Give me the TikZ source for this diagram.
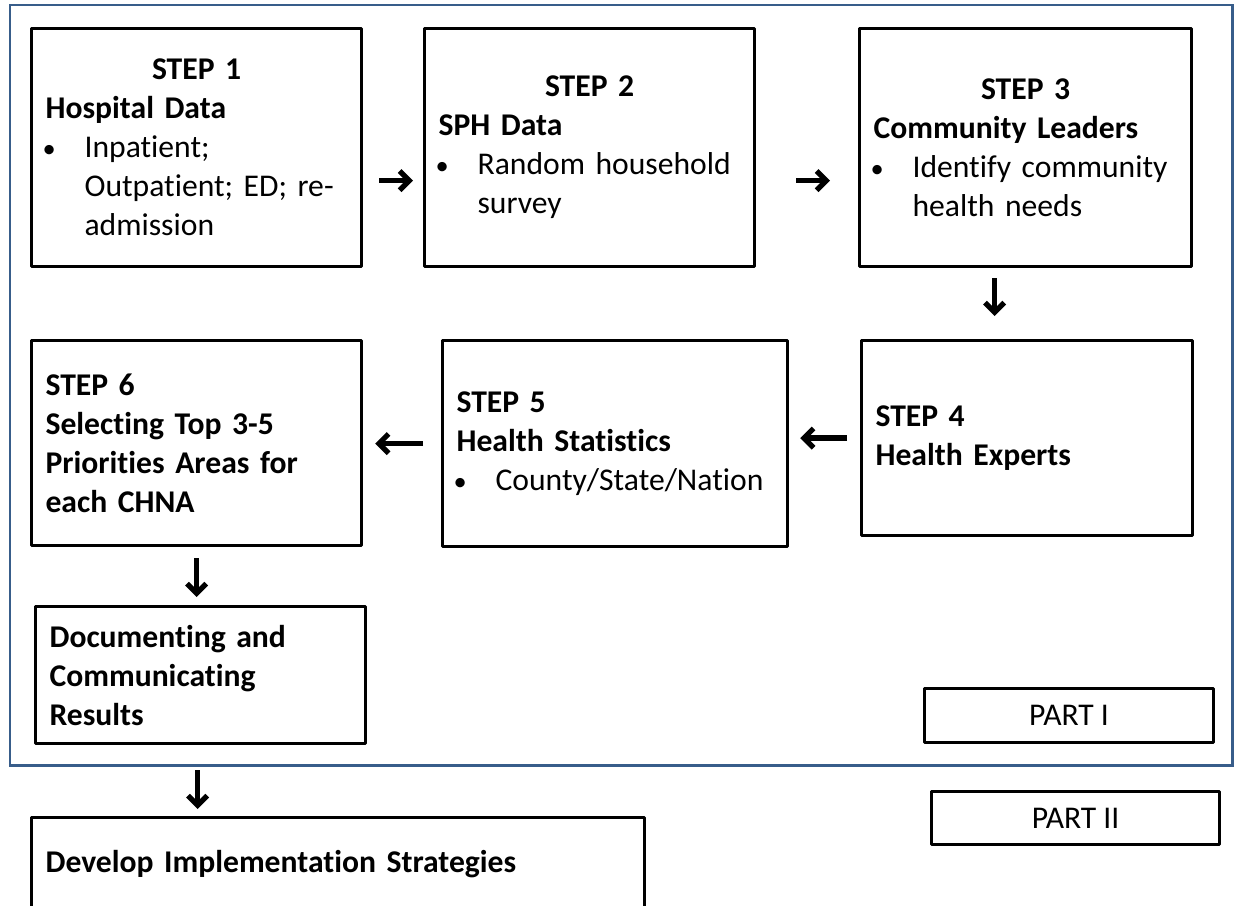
\documentclass[tikz,border=0pt]{standalone}
\usepackage{fontspec}
\setmainfont{Carlito}[Ligatures=NoCommon]
\usetikzlibrary{arrows.meta,calc}

\definecolor{framecol}{HTML}{385D8A}

\newcommand{\bitem}[1]{\makebox[0.78cm][l]{\hspace{-0.06cm}{\mdseries\fontsize{15}{15}\selectfont\textbullet}}{\mdseries #1}}
\newcommand{\bcont}[1]{\hspace*{0.78cm}{\mdseries #1}}
\newcommand{\midline}[1]{\hfill #1\hfill\null}

\tikzset{
	stepbox/.style={draw, line width=1.8pt, line join=round, align=left, anchor=north west,
		inner xsep=0.28cm, inner ysep=0pt, font=\bfseries\fontsize{18}{22.2}\selectfont},
	partbox/.style={draw, line width=1.8pt, line join=round, align=center, anchor=north west,
		inner sep=0pt, font=\fontsize{18}{22.2}\selectfont},
	flow/.style={-{Straight Barb[length=5.5pt,width=11pt]}, line width=3pt},
	frame/.style={draw=framecol, line width=1.7pt},
}

\begin{document}
\begin{tikzpicture}
			\useasboundingbox (0,0) rectangle (24.86,-18.1);
			\clip (0,0) rectangle (24.86,-18.1);
			
			% part I frame
			\draw[frame] (0.2,-0.1) rectangle (24.64,-15.3);
			
			\node[stepbox, text width=6.04cm, minimum height=4.76cm] (s1) at (0.6,-0.54)
				{\midline{STEP 1}\\Hospital Data\\\bitem{Inpatient;}\\\bcont{Outpatient; ED; re-}\\\bcont{admission}};
			\node[stepbox, text width=6.04cm, minimum height=4.76cm] (s2) at (8.46,-0.54)
				{\midline{STEP 2}\\SPH Data\\\bitem{Random household}\\\bcont{survey}};
			\node[stepbox, text width=6.08cm, minimum height=4.76cm] (s3) at (17.16,-0.54)
				{\midline{STEP 3}\\Community Leaders\\\bitem{Identify community}\\\bcont{health needs}};
			
			\node[stepbox, text width=6.06cm, minimum height=3.9cm] (s4) at (17.2,-6.78)
				{STEP 4\\Health Experts};
			\node[stepbox, text width=6.34cm, minimum height=4.12cm] (s5) at (8.82,-6.78)
				{STEP 5\\Health Statistics\\\bitem{County/State/Nation}};
			\node[stepbox, text width=6.04cm, minimum height=4.1cm] (s6) at (0.6,-6.78)
				{STEP 6\\Selecting Top 3-5\\Priorities Areas for\\each CHNA};
			
			\node[stepbox, text width=6.04cm, minimum height=2.74cm] (docs) at (0.68,-12.1)
				{Documenting and\\Communicating\\Results};
			\node[stepbox, text width=11.7cm, minimum height=1.84cm] (dev) at (0.6,-16.32)
				{Develop Implementation Strategies};
			
			\node[partbox, minimum width=5.78cm, minimum height=1.08cm] (p1) at (18.46,-13.74) {PART I};
			\node[partbox, minimum width=5.76cm, minimum height=1.06cm] (p2) at (18.6,-15.8) {PART II};
			
			% arrows
			\draw[flow, shorten <=0.32cm, shorten >=0.2cm] ([yshift=-0.66cm]s1.east) -- ([yshift=-0.66cm]s2.west);
			\draw[flow, shorten <=0.8cm, shorten >=0.56cm] ([yshift=-0.66cm]s2.east) -- ([yshift=-0.66cm]s3.west);
			\draw[flow, shorten <=0.2cm, shorten >=0.46cm] ([xshift=-0.62cm]s3.south) -- ([xshift=-0.62cm]s3.south |- s4.north);
			\draw[flow, shorten <=0.26cm, shorten >=0.22cm] (s4.west) -- (s4.west -| s5.east);
			\draw[flow, shorten <=0.36cm, shorten >=0.24cm] (s5.west) -- (s5.west -| s6.east);
			\draw[flow, shorten <=0.22cm, shorten >=0.16cm] (s6.south) -- (s6.south |- docs.north);
			\draw[flow, shorten <=0.5cm, shorten >=0.14cm] ([xshift=-0.06cm]docs.south) -- ([xshift=-0.06cm]docs.south |- dev.north);
		\end{tikzpicture}
\end{document}
